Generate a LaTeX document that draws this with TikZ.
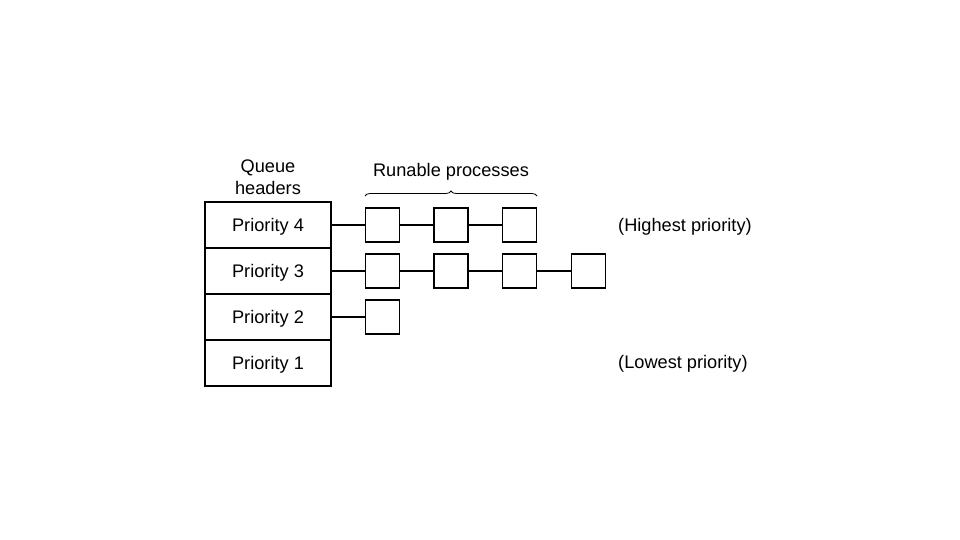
\documentclass[tikz,border=0pt]{standalone}
\usepackage{fontspec}
\setmainfont{Liberation Sans}
\usetikzlibrary{decorations.pathreplacing}
\begin{document}
\begin{tikzpicture}[x=1pt,y=-1pt,
  hdr/.style={draw,line width=1.6pt,minimum width=126pt,minimum height=46pt,inner sep=0pt,text height=13pt,text depth=0pt,font=\fontsize{18.2}{22}\selectfont},
  proc/.style={draw,line width=1.6pt,minimum width=34pt,minimum height=34pt,inner sep=0pt},
  lnk/.style={line width=1.4pt},
  lbl/.style={font=\fontsize{18.2}{22}\selectfont,inner sep=0pt,text height=13pt,text depth=0pt}]
\useasboundingbox (0,0) rectangle (960,540);
\node[hdr] (h4) at (268,225) {Priority 4};
\node[hdr] (h3) at (268,271) {Priority 3};
\node[hdr] (h2) at (268,317) {Priority 2};
\node[hdr] (h1) at (268,363) {Priority 1};
\node[proc] (a1) at (382.5,225) {};
\node[proc] (a2) at (451,225) {};
\node[proc] (a3) at (519.5,225) {};
\node[proc] (b1) at (382.5,271) {};
\node[proc] (b2) at (451,271) {};
\node[proc] (b3) at (519.5,271) {};
\node[proc] (b4) at (588.5,271) {};
\node[proc] (c1) at (382.5,317) {};
\draw[lnk] (h4) -- (a1) -- (a2) -- (a3);
\draw[lnk] (h3) -- (b1) -- (b2) -- (b3) -- (b4);
\draw[lnk] (h2) -- (c1);
\node[lbl,align=center,text height=,text depth=] (qh) at (268,177) {Queue\\headers};
\node[lbl] (rp) at (451,170) {Runable processes};
\coordinate (bl) at (365,196);
\coordinate (br) at (537,196);
\draw[line width=0.8pt,decorate,decoration={brace,amplitude=5pt}] (bl) -- (br);
\node[lbl,anchor=west] (hi) at (618,225) {(Highest priority)};
\node[lbl,anchor=west] (lo) at (618,362) {(Lowest priority)};
\end{tikzpicture}
\end{document}
